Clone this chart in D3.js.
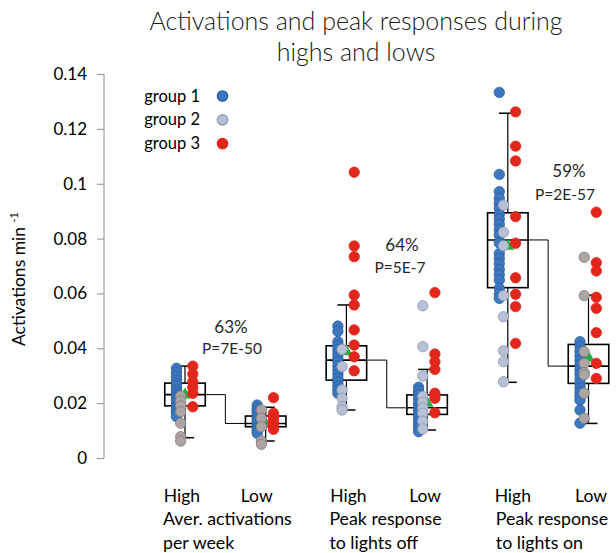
<!DOCTYPE html>
<html>
<head>
<meta charset="utf-8">
<script src="https://cdn.jsdelivr.net/npm/d3@7"></script>
<style>
  body { margin: 0; background: #fff; }
  svg { display: block; font-family: Lato, "Open Sans", sans-serif; }
</style>
</head>
<body>
<svg id="chart" width="616" height="553"></svg>
<script>
// measures and levels
const measures = [
  ["Aver. activations", "per week"],
  ["Peak response", "to lights off"],
  ["Peak response", "to lights on"]
];
const levels = ["High", "Low"];
const boxes = ["avg-high", "avg-low", "off-high", "off-low", "on-high", "on-low"];

// box statistics per box
const q1 = [0.0190, 0.0114, 0.0284, 0.0159, 0.0621, 0.0272];
const median = [0.0231, 0.0126, 0.0357, 0.0183, 0.0795, 0.0335];
const q3 = [0.0273, 0.0153, 0.0409, 0.0230, 0.0894, 0.0414];
const whiskerLow = [0.0074, 0.0062, 0.0175, 0.0102, 0.0276, 0.0126];
const whiskerHigh = [0.0335, 0.0185, 0.0558, 0.0323, 0.1257, 0.0594];
const means = [0.0230, 0.0125, 0.0388, 0.0200, 0.0773, 0.0365];

// individual values per box
const group1 = [
  [0.0327, 0.0312, 0.0298, 0.0285, 0.0272, 0.0262, 0.025, 0.0241, 0.023, 0.0221, 0.021, 0.0199, 0.0188, 0.0178, 0.0168, 0.016, 0.0151],
  [0.0193, 0.0181, 0.0171, 0.0162, 0.0149, 0.0139, 0.0129, 0.0119, 0.0108, 0.0099, 0.009],
  [0.0481, 0.0462, 0.0424, 0.041, 0.0396, 0.0381, 0.0366, 0.0352, 0.0336, 0.0321, 0.0306, 0.0291, 0.0276, 0.0262, 0.0248, 0.0236],
  [0.0258, 0.0244, 0.0231, 0.0216, 0.0201, 0.0188, 0.0174, 0.0161, 0.0148, 0.0134, 0.0121, 0.0108, 0.0096],
  [0.1333, 0.1034, 0.0971, 0.0947, 0.0928, 0.0911, 0.0889, 0.0871, 0.0852, 0.0831, 0.0812, 0.0784, 0.0746, 0.0728, 0.0709, 0.0688, 0.0668, 0.0649, 0.0619, 0.0598, 0.0582],
  [0.0424, 0.0406, 0.0389, 0.0372, 0.0356, 0.0339, 0.0322, 0.0306, 0.0289, 0.0272, 0.0256, 0.024, 0.0225, 0.0211, 0.0175, 0.0127]
];
const group2 = [
  [0.0225, 0.0208, 0.019, 0.0169, 0.0127, 0.0078, 0.0062],
  [0.0175, 0.0145, 0.0114, 0.0062, 0.005],
  [0.0396, 0.0333, 0.0248, 0.0218, 0.0187, 0.0175],
  [0.0555, 0.0406, 0.0299, 0.0224, 0.0203, 0.0182, 0.0163, 0.0134, 0.0106],
  [0.0922, 0.0823, 0.0774, 0.0592, 0.0515, 0.0391, 0.0351, 0.0278],
  [0.0732, 0.0592, 0.0388, 0.0345, 0.0312, 0.0303, 0.0236, 0.0145]
];
const group3 = [
  [0.0335, 0.0306, 0.0278, 0.0258, 0.0236, 0.0187],
  [0.022, 0.0163, 0.015, 0.0135, 0.012, 0.0105],
  [0.1042, 0.0773, 0.0734, 0.0594, 0.0558, 0.0467, 0.0412, 0.0369, 0.0318],
  [0.0603, 0.0379, 0.0351, 0.0323, 0.0236, 0.0218, 0.0165],
  [0.1262, 0.1137, 0.1083, 0.088, 0.0783, 0.0657, 0.0597, 0.0552, 0.0418],
  [0.0896, 0.0712, 0.0682, 0.0586, 0.0546, 0.0457, 0.0345, 0.029]
];

// change annotations per measure
const percents = ["63%", "64%", "59%"];
const pValues = ["P=7E-50", "P=5E-7", "P=2E-57"];

const yTicks = [0, 0.02, 0.04, 0.06, 0.08, 0.1, 0.12, 0.14];
const seriesNames = ["group 1", "group 2", "group 3"];

// styles
const blue = { fill: "#3c77bf", stroke: "#2c5f9e" };
const grayBlue = { fill: "#b7c0d5", stroke: "#8e99b3" };
const grayWarm = { fill: "#aca5a4", stroke: "#857d7c" };
const red = { fill: "#e1261c", stroke: "#e1261c" };
const grayStyle = [grayWarm, grayWarm, grayBlue, grayBlue, grayBlue, grayWarm];
const notePos = [[231, 333, 232, 354], [402, 251, 400, 273], [569, 177, 565, 200]];
const levelDx = [-3, -9, 2, -2, 5, 2.5];
const measureDx = [-22, -17, -12];

const svg = d3.select("#chart");

const y = d3.scaleLinear().domain([0, 0.14]).range([458, 74]);
const x = d3.scalePoint().domain(boxes).range([185, 588.5]);
const boxW = 40.5;
const dotR = 5.2;

// y axis
const yAxis = svg.append("g")
  .attr("transform", "translate(104,0)")
  .call(d3.axisLeft(y).tickValues(yTicks).tickSize(7).tickPadding(10).tickFormat(d => d3.format("~g")(d)));
yAxis.select(".domain").attr("stroke", "#8c8c8c").attr("d", `M0,${y(0)}V${y(0.14)}`);
yAxis.selectAll(".tick line").attr("stroke", "#8c8c8c");
yAxis.selectAll(".tick text").attr("font-size", 17).attr("fill", "#000")
  .attr("font-family", "Lato, sans-serif");

const yTitle = svg.append("text")
  .attr("transform", "translate(25,279) rotate(-90)")
  .attr("text-anchor", "middle")
  .attr("font-size", 17.5)
  .attr("fill", "#000");
yTitle.append("tspan").text("Activations min ");
yTitle.append("tspan").attr("font-size", 11).attr("dy", -7).text("-1");

// title
svg.append("text").attr("x", 356).attr("y", 30).attr("text-anchor", "middle")
  .attr("font-size", 25).attr("font-weight", 300).attr("fill", "#1a1a1a")
  .text("Activations and peak responses during");
svg.append("text").attr("x", 356).attr("y", 61).attr("text-anchor", "middle")
  .attr("font-size", 25).attr("font-weight", 300).attr("fill", "#1a1a1a")
  .text("highs and lows");

// median connectors
const conn = svg.append("g").attr("fill", "none").attr("stroke", "#000").attr("stroke-width", 1);
measures.forEach((m, i) => {
  const hi = boxes[2 * i], lo = boxes[2 * i + 1];
  const x0 = x(hi) + boxW / 2, x1 = x(lo) - boxW / 2, xm = (x0 + x1) / 2;
  conn.append("path")
    .attr("d", `M${x0},${y(median[2 * i])}H${xm}V${y(median[2 * i + 1])}H${x1}`);
});

// whiskers and boxes
const bx = svg.append("g").selectAll("g").data(boxes).join("g");
bx.append("line")
  .attr("x1", d => x(d)).attr("x2", d => x(d))
  .attr("y1", (d, i) => y(whiskerLow[i])).attr("y2", (d, i) => y(whiskerHigh[i]))
  .attr("stroke", "#000").attr("stroke-width", 1.2);
bx.append("line")
  .attr("x1", d => x(d) - 9).attr("x2", d => x(d) + 9)
  .attr("y1", (d, i) => y(whiskerHigh[i])).attr("y2", (d, i) => y(whiskerHigh[i]))
  .attr("stroke", "#000").attr("stroke-width", 1.5);
bx.append("line")
  .attr("x1", d => x(d) - 9).attr("x2", d => x(d) + 9)
  .attr("y1", (d, i) => y(whiskerLow[i])).attr("y2", (d, i) => y(whiskerLow[i]))
  .attr("stroke", "#000").attr("stroke-width", 1.5);
bx.append("rect")
  .attr("x", d => x(d) - boxW / 2).attr("width", boxW)
  .attr("y", (d, i) => y(q3[i])).attr("height", (d, i) => y(q1[i]) - y(q3[i]))
  .attr("fill", "#fff").attr("stroke", "#000").attr("stroke-width", 1.6);
bx.append("line")
  .attr("x1", d => x(d) - boxW / 2).attr("x2", d => x(d) + boxW / 2)
  .attr("y1", (d, i) => y(median[i])).attr("y2", (d, i) => y(median[i]))
  .attr("stroke", "#000").attr("stroke-width", 1.6);

function dots(values, dx, styleOf) {
  boxes.forEach((b, i) => {
    const st = styleOf(i);
    svg.append("g").selectAll("circle").data(values[i]).join("circle")
      .attr("cx", x(b) + dx).attr("cy", d => y(d)).attr("r", dotR)
      .attr("fill", st.fill).attr("stroke", st.stroke).attr("stroke-width", 0.8);
  });
}

dots(group1, -8.5, () => blue);

// means
svg.append("g").selectAll("path").data(boxes).join("path")
  .attr("d", d3.symbol(d3.symbolTriangle, 70))
  .attr("transform", (d, i) => `translate(${x(d)},${y(means[i])})`)
  .attr("fill", "#1fb23a");

dots(group2, -4.3, i => grayStyle[i]);
dots(group3, 7.8, () => red);

// annotations
measures.forEach((m, i) => {
  const p = notePos[i];
  svg.append("text").attr("x", p[0]).attr("y", p[1]).attr("text-anchor", "middle")
    .attr("font-size", 17).attr("fill", "#262626").text(percents[i]);
  svg.append("text").attr("x", p[2]).attr("y", p[3]).attr("text-anchor", "middle")
    .attr("font-size", 15.5).attr("fill", "#262626").text(pValues[i]);
});

// x labels
svg.append("g").selectAll("text").data(boxes).join("text")
  .attr("x", (d, i) => x(d) + levelDx[i]).attr("y", 502).attr("text-anchor", "middle")
  .attr("font-size", 17.5).attr("fill", "#000")
  .text((d, i) => levels[i % 2]);
measures.forEach((m, i) => {
  const lx = x(boxes[2 * i]) + measureDx[i];
  svg.append("text").attr("x", lx).attr("y", 525).attr("font-size", 17.8).attr("fill", "#000").text(m[0]);
  svg.append("text").attr("x", lx).attr("y", 549).attr("font-size", 17.8).attr("fill", "#000").text(m[1]);
});

// legend
const legendStyles = [blue, grayBlue, red];
const lg = svg.append("g").selectAll("g").data(seriesNames).join("g")
  .attr("transform", (d, i) => `translate(0,${96 + i * 23.8})`);
lg.append("text").attr("x", 200).attr("y", 5.5).attr("text-anchor", "end")
  .attr("font-size", 16.5).attr("fill", "#000").text(d => d);
lg.append("circle").attr("cx", 222.5).attr("cy", 0).attr("r", 5.2)
  .attr("fill", (d, i) => legendStyles[i].fill)
  .attr("stroke", (d, i) => legendStyles[i].stroke).attr("stroke-width", 1.3);
</script>
</body>
</html>
